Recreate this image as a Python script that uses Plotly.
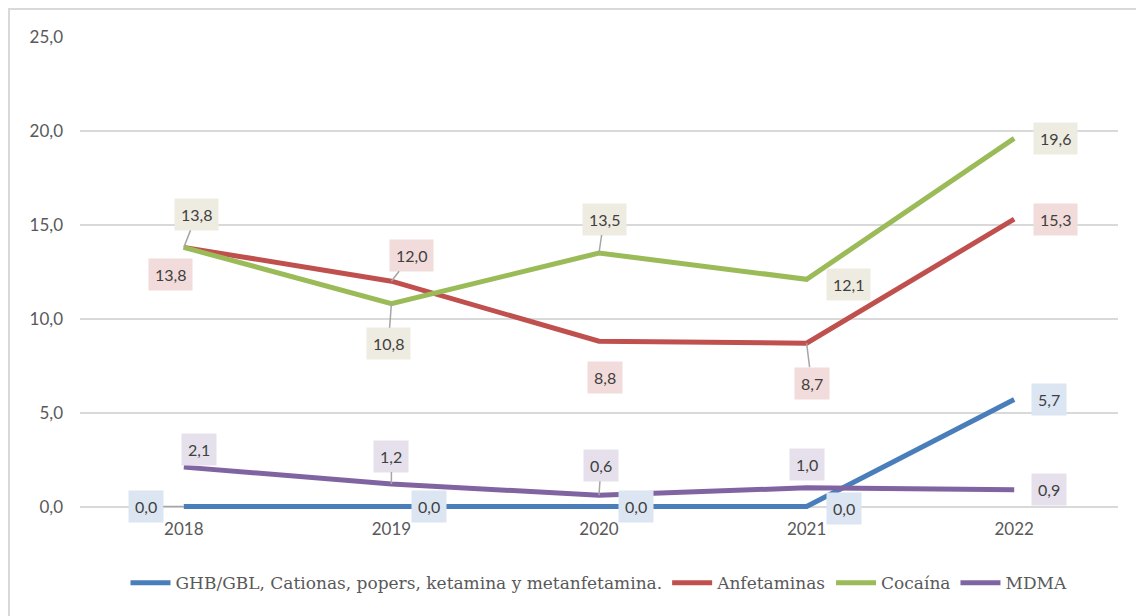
import plotly.graph_objects as go

years = [2018, 2019, 2020, 2021, 2022]
series_names = ["GHB/GBL, Cationas, popers, ketamina y metanfetamina.",
                "Anfetaminas", "Cocaína", "MDMA"]
ghb = [0.0, 0.0, 0.0, 0.0, 5.7]
anfetaminas = [13.8, 12.0, 8.8, 8.7, 15.3]
cocaina = [13.8, 10.8, 13.5, 12.1, 19.6]
mdma = [2.1, 1.2, 0.6, 1.0, 0.9]
y_ticks = [0, 5, 10, 15, 20, 25]

values = [ghb, anfetaminas, cocaina, mdma]
line_colors = ["#4a7ebb", "#c0504d", "#9bbb59", "#8064a2"]
box_colors = ["#dce6f2", "#f2dcdb", "#eeece1", "#e5e0ec"]

# label offsets in pixels (style): (ax, ay, leader line shown)
offsets = [
    [(-38, 0, True), (38, 0, False), (37, 0, False), (37, 2, False), (35, 0, False)],
    [(-13, 27, False), (20, -26, True), (6, 36, False), (5, 40, True), (41, 0, False)],
    [(13, -33, True), (-3, 40, True), (5, -34, True), (42, 5, False), (41, 0, False)],
    [(15, -18, False), (0, -28, True), (2, -30, True), (0, -23, False), (35, 0, False)],
]

fig = go.Figure()
for name, vals, col in zip(series_names, values, line_colors):
    fig.add_trace(go.Scatter(x=years, y=vals, name=name, mode="lines",
                             line=dict(color=col, width=5)))

for vals, offs, bcol in zip(values, offsets, box_colors):
    for yr, v, (ax, ay, lead) in zip(years, vals, offs):
        txt = f"{v:.1f}".replace(".", ",")
        fig.add_annotation(
            x=yr, y=v, xref="x", yref="y", text=txt,
            showarrow=True, arrowhead=0, ax=ax, ay=ay,
            arrowcolor="#a6a6a6" if lead else "rgba(255,255,255,0)", arrowwidth=1.5,
            bgcolor=bcol, borderpad=6,
            font=dict(family="Lato", size=16, color="#404040"),
        )

fig.update_layout(
    width=1144, height=616,
    margin=dict(l=72, r=34, t=29, b=115),
    paper_bgcolor="white", plot_bgcolor="white",
    separators=",.",
    showlegend=True,
    legend=dict(orientation="h", x=0.5, xanchor="center",
                y=-0.157, yanchor="middle",
                font=dict(family="DejaVu Serif", size=17, color="#595959"),
                itemwidth=40),
    shapes=[dict(type="rect", xref="paper", yref="paper",
                 x0=-0.0684, x1=1.1, y0=-0.4, y1=1.0593,
                 line=dict(color="#d9d9d9", width=2), layer="below")],
)
fig.update_xaxes(range=[2017.5, 2022.5], tickvals=years, tickformat="d",
                 showgrid=False, zeroline=False,
                 showline=False, ticks="", ticklabelstandoff=8,
                 tickfont=dict(family="Lato", size=17, color="#595959"))
fig.update_yaxes(range=[-0.13, 25], tickvals=y_ticks, tickformat=".1f",
                 showgrid=True, gridcolor="#d9d9d9", gridwidth=1.5,
                 zeroline=False,
                 showline=False, ticks="", ticklabelstandoff=16,
                 tickfont=dict(family="Lato", size=17, color="#595959"))

fig.write_html("out.html")
